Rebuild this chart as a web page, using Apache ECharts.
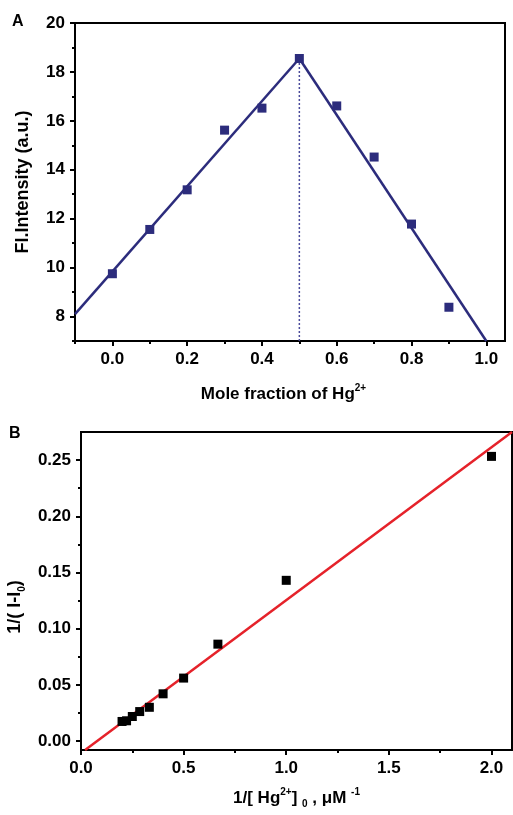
<!DOCTYPE html>
<html>
<head>
<meta charset="utf-8">
<script src="https://cdn.jsdelivr.net/npm/echarts@6/dist/echarts.min.js"></script>
<style>
html,body{margin:0;padding:0;background:#fff;}
#c{width:513px;height:815px;}
</style>
</head>
<body>
<div id="c"></div>
<script>
// ---- Panel A data ----
var moleFraction = [0.0, 0.1, 0.2, 0.3, 0.4, 0.5, 0.6, 0.7, 0.8, 0.9];
var intensity = [9.75, 11.56, 13.18, 15.62, 16.52, 18.55, 16.61, 14.52, 11.78, 8.38];
var leftFitX = [-0.1, 0.5];
var leftFitY = [8.1, 18.55];
var rightFitX = [0.5, 1.0];
var rightFitY = [18.55, 7.0];
var peakLineX = [0.5, 0.5];
var peakLineY = [7.0, 18.55];
var xTicksA = [0.0, 0.2, 0.4, 0.6, 0.8, 1.0];
var xMinorA = [-0.1, 0.1, 0.3, 0.5, 0.7, 0.9];
var yTicksA = [8, 10, 12, 14, 16, 18, 20];
var yMinorA = [7, 9, 11, 13, 15, 17, 19];

// ---- Panel B data ----
var invConc = [0.2, 0.222, 0.25, 0.286, 0.333, 0.4, 0.5, 0.667, 1.0, 2.0];
var invDelta = [0.0174, 0.0180, 0.0218, 0.0262, 0.0300, 0.0420, 0.0560, 0.0862, 0.1430, 0.2533];
var fitBX = [0.02, 2.1];
var fitBY = [-0.008, 0.275];
var xTicksB = [0.0, 0.5, 1.0, 1.5, 2.0];
var xMinorB = [0.25, 0.75, 1.25, 1.75];
var yTicksB = [0.00, 0.05, 0.10, 0.15, 0.20, 0.25];
var yMinorB = [0.025, 0.075, 0.125, 0.175, 0.225];

function pairs(xs, ys) { return xs.map(function (x, i) { return [x, ys[i]]; }); }

var FONT = "'Liberation Sans', Arial, sans-serif";
var NAVY = '#2c2c7c';

function majorAxis(gi, min, max, ticks, fmt, pos, extra) {
  var a = {
    type: 'value', gridIndex: gi, min: min, max: max, position: pos,
    axisLine: { show: true, onZero: false, lineStyle: { color: '#000', width: 2 } },
    axisTick: { show: true, inside: false, length: 5, customValues: ticks, lineStyle: { color: '#000', width: 2 } },
    axisLabel: { show: true, customValues: ticks, formatter: fmt, color: '#000', fontSize: 17, fontWeight: 'bold', fontFamily: FONT, margin: 10 },
    splitLine: { show: false }
  };
  for (var k in extra) a[k] = extra[k];
  return a;
}
function minorAxis(gi, min, max, ticks, pos) {
  return {
    type: 'value', gridIndex: gi, min: min, max: max, position: pos,
    axisLine: { show: false, onZero: false },
    axisTick: { show: true, inside: false, length: 3, customValues: ticks, lineStyle: { color: '#000', width: 2 } },
    axisLabel: { show: false },
    splitLine: { show: false }
  };
}

function nameStyle(pad, size) {
  var lh = size + 5;
  return {
    color: '#000', fontSize: size, fontWeight: 'bold', fontFamily: FONT, lineHeight: lh, padding: pad,
    rich: {
      sup: { fontSize: 10, fontWeight: 'bold', fontFamily: FONT, color: '#000', verticalAlign: 'top', lineHeight: lh },
      sub: { fontSize: 10, fontWeight: 'bold', fontFamily: FONT, color: '#000', verticalAlign: 'bottom', lineHeight: lh }
    }
  };
}

var chart = echarts.init(document.getElementById('c'), null, { renderer: 'canvas' });
chart.setOption({
  backgroundColor: '#fff',
  animation: false,
  grid: [
    { left: 75, top: 23, width: 430, height: 318, show: true, borderColor: '#000', borderWidth: 2, backgroundColor: 'transparent', containLabel: false, outerBoundsMode: 'none' },
    { left: 81, top: 432, width: 431, height: 318, show: true, borderColor: '#000', borderWidth: 2, backgroundColor: 'transparent', containLabel: false, outerBoundsMode: 'none' }
  ],
  xAxis: [
    majorAxis(0, -0.1, 1.05, xTicksA, function (v) { return v.toFixed(1); }, 'bottom', {
      name: 'Mole fraction of Hg{sup|2+}', nameLocation: 'middle', nameGap: 42, nameTextStyle: nameStyle([0, 13, 0, 0], 17)
    }),
    minorAxis(0, -0.1, 1.05, xMinorA, 'bottom'),
    majorAxis(1, 0, 2.1, xTicksB, function (v) { return v.toFixed(1); }, 'bottom', {
      name: '1/[ Hg{sup|2+}] {sub|0} , μM {sup|-1}', nameLocation: 'middle', nameGap: 37, nameTextStyle: nameStyle([0, 0, 0, 0], 17)
    }),
    minorAxis(1, 0, 2.1, xMinorB, 'bottom')
  ],
  yAxis: [
    majorAxis(0, 7, 20, yTicksA, function (v) { return String(v); }, 'left', {
      name: 'Fl.Intensity (a.u.)', nameLocation: 'middle', nameGap: 40, nameRotate: 90, nameTextStyle: nameStyle([0, 0, 0, 0], 18)
    }),
    minorAxis(0, 7, 20, yMinorA, 'left'),
    majorAxis(1, -0.008, 0.275, yTicksB, function (v) { return v.toFixed(2); }, 'left', {
      name: '1/( I-I{sub|0})', nameLocation: 'middle', nameGap: 53, nameRotate: 90, nameTextStyle: nameStyle([0, 32, 0, 0], 18)
    }),
    minorAxis(1, -0.008, 0.275, yMinorB, 'left')
  ],
  graphic: [
    { type: 'text', left: 12, top: 14, style: { text: 'A', fill: '#000', font: 'bold 16px ' + FONT } },
    { type: 'text', left: 9, top: 426, style: { text: 'B', fill: '#000', font: 'bold 16px ' + FONT } }
  ],
  series: [
    { type: 'line', xAxisIndex: 0, yAxisIndex: 0, data: pairs(peakLineX, peakLineY), showSymbol: false, symbol: 'none',
      lineStyle: { color: '#4b4b9b', width: 1.5, type: [2, 2] }, z: 2, clip: true },
    { type: 'line', xAxisIndex: 0, yAxisIndex: 0, data: pairs(leftFitX, leftFitY), showSymbol: false, symbol: 'none',
      lineStyle: { color: NAVY, width: 2.5 }, z: 3, clip: true },
    { type: 'line', xAxisIndex: 0, yAxisIndex: 0, data: pairs(rightFitX, rightFitY), showSymbol: false, symbol: 'none',
      lineStyle: { color: NAVY, width: 2.5 }, z: 3, clip: true },
    { type: 'scatter', xAxisIndex: 0, yAxisIndex: 0, data: pairs(moleFraction, intensity), symbol: 'rect', symbolSize: 9,
      itemStyle: { color: NAVY, opacity: 1 }, z: 4 },
    { type: 'line', xAxisIndex: 2, yAxisIndex: 2, data: pairs(fitBX, fitBY), showSymbol: false, symbol: 'none',
      lineStyle: { color: '#e5222a', width: 2.5 }, z: 3, clip: true },
    { type: 'scatter', xAxisIndex: 2, yAxisIndex: 2, data: pairs(invConc, invDelta), symbol: 'rect', symbolSize: 9,
      itemStyle: { color: '#000', opacity: 1 }, z: 4 }
  ]
});
</script>
</body>
</html>
